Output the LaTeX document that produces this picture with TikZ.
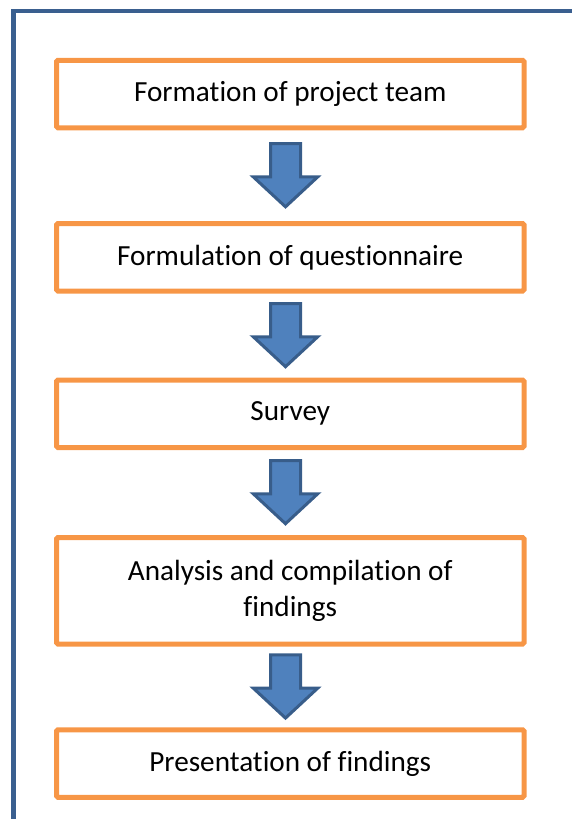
\documentclass[tikz,border=0pt]{standalone}
\usepackage{fontspec}
\setmainfont{Carlito}[Ligatures=NoCommon]
\usetikzlibrary{calc}
\definecolor{frameblue}{HTML}{3A5F8F}
\definecolor{stageorange}{HTML}{F79646}
\definecolor{arrowfill}{HTML}{4F81BD}
\definecolor{arrowline}{HTML}{385D8A}

\begin{document}
\begin{tikzpicture}[x=1pt, y=1pt,
  font=\fontsize{29.2}{36}\selectfont,
  stage/.style={draw=stageorange, line width=5pt, rounded corners=1.5pt,
    minimum width=467.5pt, minimum height=67.5pt, align=center, inner sep=0pt},
  flowarr/.style={draw=arrowline, fill=arrowfill, line width=3pt, line join=miter}]
\useasboundingbox (0,0) rectangle (572,-819);
% outer frame, runs off the right and bottom edges
\draw[frameblue, line width=4.5pt] (572,-11) -- (13.5,-11) -- (13.5,-819);

% stages, top to bottom
\node[stage] (team) at (290.25,-94) {Formation of project team};
\node[stage] (quest) at (290.25,-257.25) {Formulation of questionnaire};
\node[stage] (survey) at (290.25,-413.75) {Survey};
\node[stage, minimum height=106.5pt] (analysis) at (290.25,-590.75) {Analysis and compilation of\\findings};
\node[stage] (present) at (290.25,-763.5) {Presentation of findings};

% block arrows in the gaps
\foreach \a/\b in {team/quest, quest/survey, survey/analysis, analysis/present}
  \draw[flowarr, shift={($(\a.south)!0.5!(\b.north)+(-4.75,0)$)}]
    (-15,32) -- (15,32) -- (15,-1.3) -- (32.2,-1.3) -- (0,-31.2)
    -- (-32.2,-1.3) -- (-15,-1.3) -- cycle;
\end{tikzpicture}
\end{document}
